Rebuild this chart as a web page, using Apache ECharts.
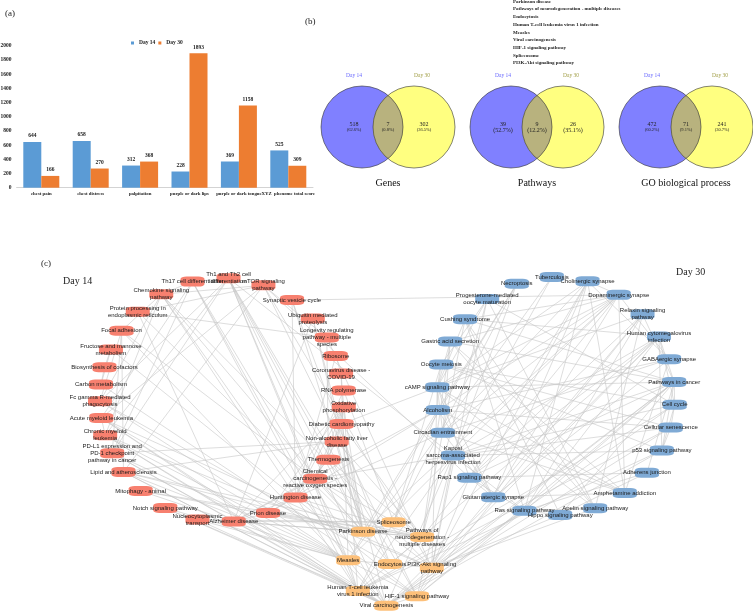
<!DOCTYPE html>
<html><head><meta charset="utf-8">
<script src="https://cdn.jsdelivr.net/npm/echarts/dist/echarts.min.js"></script>
<style>html,body{margin:0;padding:0;background:#fff}#c{width:753px;height:611px}</style>
</head><body><div id="c"></div>
<script>
// ---------- (a) bar chart data ----------
const symptomCategories = ['chest pain','chest distress','palpitation','purple or dark lips','purple or dark tongue','XYZ  phenome total score'];
const day14Scores = [644, 658, 312, 228, 369, 525];
const day30Scores = [166, 270, 368, 1893, 1158, 309];
const seriesNames = ['Day 14', 'Day 30'];

// ---------- (b) Venn data ----------
const vennTitles = ['Genes', 'Pathways', 'GO biological process'];
const vennOnly14 = [518, 39, 472];
const vennShared = [7, 9, 71];
const vennOnly30 = [302, 26, 241];

// ---------- (c) network data ----------
const day14Pathways = [
  'Th17 cell differentiation','Th1 and Th2 cell\ndifferentiation','mTOR signaling\npathway','Synaptic vesicle cycle',
  'Ubiquitin mediated\nproteolysis','Longevity regulating\npathway - multiple\nspecies','Ribosome','Coronavirus disease -\nCOVID-19',
  'RNA polymerase','Oxidative\nphosphorylation','Diabetic cardiomyopathy','Non-alcoholic fatty liver\ndisease','Thermogenesis',
  'Chemical\ncarcinogenesis -\nreactive oxygen species','Huntington disease','Prion disease','Alzheimer disease',
  'Nucleocytoplasmic\ntransport','Notch signaling pathway','Mitophagy - animal','Lipid and atherosclerosis',
  'PD-L1 expression and\nPD-1 checkpoint\npathway in cancer','Chronic myeloid\nleukemia','Acute myeloid leukemia',
  'Fc gamma R-mediated\nphagocytosis','Carbon metabolism','Biosynthesis of cofactors','Fructose and mannose\nmetabolism',
  'Focal adhesion','Protein processing in\nendoplasmic reticulum','Chemokine signaling\npathway'
];
const day30Pathways = [
  'Tuberculosis','Cholinergic synapse','Dopaminergic synapse','Relaxin signaling\npathway','Human cytomegalovirus\ninfection',
  'GABAergic synapse','Pathways in cancer','Cell cycle','Cellular senescence','p53 signaling pathway','Adherens junction',
  'Amphetamine addiction','Apelin signaling pathway','Hippo signaling pathway','Ras signaling pathway','Glutamatergic synapse',
  'Rap1 signaling pathway','Kaposi\nsarcoma-associated\nherpesvirus infection','Circadian entrainment','Alcoholism',
  'cAMP signaling pathway','Oocyte meiosis','Gastric acid secretion','Cushing syndrome','Progesterone-mediated\noocyte maturation','Necroptosis'
];
const sharedPathways = [
  'Parkinson disease','Pathways of\nneurodegeneration -\nmultiple diseases','Endocytosis','Human T-cell leukemia\nvirus 1 infection',
  'Measles','Viral carcinogenesis','HIF-1 signaling pathway','Spliceosome','PI3K-Akt signaling\npathway'
];
const networkEdges = [
  ['Th17','Th1 and'],['Th17','Chemokine'],['Th17','Measles'],['Th17','Human T'],['Th17','Viral'],['Th17','PD-L1'],['Th17','Acute'],
  ['Th1 and','Measles'],['Th1 and','Human T'],['Th1 and','Viral'],['Th1 and','Parkinson'],['Th1 and','Chronic'],['Th1 and','PD-L1'],
  ['Th1 and','Fc'],['Th1 and','HIF'],['Th1 and','Endocytosis'],['Th1 and','Kaposi'],
  ['Chemokine','mTOR'],['Chemokine','Focal'],['Chemokine','Fc'],['Chemokine','Chronic'],['Chemokine','Human T'],['Chemokine','Measles'],
  ['Chemokine','PI3K'],['Chemokine','Endocytosis'],
  ['Protein','mTOR'],['Protein','Longevity'],['Protein','Parkinson'],['Protein','Alzheimer'],
  ['mTOR','Longevity'],['mTOR','Acute'],['mTOR','PI3K'],['mTOR','HIF'],['mTOR','Lipid'],['mTOR','Rap1'],
  ['Synaptic','Parkinson'],['Synaptic','Endocytosis'],['Synaptic','Huntington'],['Synaptic','Dopaminergic'],
  ['Ubiquitin','Parkinson'],['Ubiquitin','Alzheimer'],['Ubiquitin','Viral'],
  ['Longevity','Thermogenesis'],['Longevity','PI3K'],
  ['Ribosome','Coronavirus'],['Ribosome','Huntington'],
  ['Coronavirus','Measles'],['Coronavirus','Human T'],
  ['RNA','Spliceosome'],['RNA','Huntington'],
  ['Oxidative','Thermogenesis'],['Oxidative','Diabetic'],['Oxidative','Non-alcoholic'],['Oxidative','Parkinson'],['Oxidative','Alzheimer'],
  ['Oxidative','Prion'],['Oxidative','Huntington'],['Oxidative','Chemical'],
  ['Diabetic','Parkinson'],['Diabetic','Pathways of'],['Diabetic','Chemical'],['Diabetic','cAMP'],
  ['Non-alcoholic','Parkinson'],['Non-alcoholic','Chemical'],['Non-alcoholic','Pathways of'],
  ['Thermogenesis','Parkinson'],['Thermogenesis','Pathways of'],['Thermogenesis','Huntington'],
  ['Chemical','Parkinson'],['Chemical','Pathways of'],['Chemical','Alzheimer'],['Chemical','Kaposi'],
  ['Huntington','Parkinson'],['Huntington','Pathways of'],['Huntington','Alzheimer'],['Huntington','Prion'],['Huntington','Circadian'],
  ['Prion','Parkinson'],['Prion','Pathways of'],['Prion','Alzheimer'],['Prion','Alcoholism'],
  ['Alzheimer','Parkinson'],['Alzheimer','Pathways of'],['Alzheimer','Spliceosome'],['Alzheimer','Alcoholism'],
  ['Nucleocytoplasmic','Spliceosome'],['Nucleocytoplasmic','Measles'],['Nucleocytoplasmic','Viral'],
  ['Notch','Human T'],['Notch','Viral'],['Notch','Measles'],
  ['Mitophagy','Parkinson'],['Mitophagy','Measles'],['Mitophagy','Pathways of'],
  ['Lipid','Measles'],['Lipid','Human T'],['Lipid','Viral'],['Lipid','Parkinson'],['Lipid','Non-alcoholic'],['Lipid','Pathways of'],
  ['PD-L1','Human T'],['PD-L1','Measles'],['PD-L1','Non-alcoholic'],['PD-L1','Viral'],
  ['Chronic','Human T'],['Chronic','Viral'],['Chronic','Acute'],['Chronic','HIF'],['Chronic','PI3K'],
  ['Acute','Human T'],['Acute','Viral'],['Acute','PI3K'],['Acute','Measles'],
  ['Fc','Measles'],['Fc','Endocytosis'],['Fc','Focal'],
  ['Carbon','HIF'],['Carbon','Biosynthesis'],['Carbon','Fructose'],['Biosynthesis','Fructose'],['Fructose','HIF'],
  ['Focal','Lipid'],['Focal','PD-L1'],['Focal','Viral'],['Focal','PI3K'],
  ['Tuberculosis','Measles'],['Tuberculosis','Kaposi'],
  ['Necroptosis','Measles'],['Necroptosis','Human T'],['Necroptosis','Kaposi'],['Necroptosis','Alcoholism'],
  ['Cholinergic','Dopaminergic'],['Cholinergic','GABA'],['Cholinergic','Glutamatergic'],['Cholinergic','Circadian'],['Cholinergic','Amphetamine'],
  ['Cholinergic','Rap1'],['Cholinergic','Ras'],['Cholinergic','cAMP'],['Cholinergic','PI3K'],
  ['Dopaminergic','Glutamatergic'],['Dopaminergic','Amphetamine'],['Dopaminergic','Alcoholism'],['Dopaminergic','Circadian'],
  ['Dopaminergic','cAMP'],['Dopaminergic','GABA'],['Dopaminergic','Parkinson'],['Dopaminergic','Cushing'],['Dopaminergic','Gastric'],
  ['Dopaminergic','Rap1'],['Dopaminergic','Kaposi'],
  ['Relaxin','Apelin'],['Relaxin','Rap1'],['Relaxin','Ras'],['Relaxin','PI3K'],['Relaxin','cAMP'],['Relaxin','HIF'],['Relaxin','Pathways in'],
  ['Human c','Kaposi'],['Human c','Pathways in'],['Human c','Cell cycle'],['Human c','p53'],['Human c','Viral'],['Human c','PI3K'],
  ['Human c','Rap1'],['Human c','Ras'],['Human c','Human T'],['Human c','Cushing'],
  ['GABA','Glutamatergic'],['GABA','Alcoholism'],['GABA','Amphetamine'],['GABA','Circadian'],
  ['Pathways in','Ras'],['Pathways in','Rap1'],['Pathways in','PI3K'],['Pathways in','Cell cycle'],['Pathways in','p53'],['Pathways in','Kaposi'],
  ['Pathways in','Viral'],['Pathways in','Hippo'],['Pathways in','HIF'],['Pathways in','Adherens'],['Pathways in','Cushing'],
  ['Pathways in','Gastric'],['Pathways in','cAMP'],
  ['Cell cycle','p53'],['Cell cycle','Cellular'],['Cell cycle','Viral'],['Cell cycle','Human T'],['Cell cycle','Oocyte'],['Cell cycle','Kaposi'],
  ['Cellular','p53'],['Cellular','Viral'],['Cellular','Human T'],['Cellular','Kaposi'],['Cellular','Alcoholism'],
  ['p53','Viral'],['p53','Human T'],['p53','Kaposi'],
  ['Adherens','Hippo'],['Adherens','Ras'],['Adherens','Rap1'],
  ['Amphetamine','Alcoholism'],['Amphetamine','Glutamatergic'],['Amphetamine','Circadian'],['Amphetamine','cAMP'],
  ['Apelin','Ras'],['Apelin','cAMP'],['Apelin','PI3K'],['Apelin','Gastric'],
  ['Hippo','PI3K'],['Hippo','Ras'],
  ['Ras','Rap1'],['Ras','PI3K'],['Ras','Kaposi'],['Ras','HIF'],['Ras','Viral'],
  ['Glutamatergic','Circadian'],['Glutamatergic','Alcoholism'],['Glutamatergic','Rap1'],['Glutamatergic','cAMP'],
  ['Rap1','PI3K'],['Rap1','cAMP'],['Rap1','Pathways of'],
  ['Kaposi','Viral'],['Kaposi','Human T'],['Kaposi','PI3K'],['Kaposi','HIF'],['Kaposi','Measles'],
  ['Circadian','cAMP'],['Circadian','Gastric'],
  ['Alcoholism','cAMP'],['Alcoholism','Parkinson'],['Alcoholism','Spliceosome'],
  ['cAMP','Gastric'],['cAMP','Cushing'],['cAMP','PI3K'],['cAMP','Oocyte'],['cAMP','Progesterone'],
  ['Oocyte','Progesterone'],['Oocyte','Spliceosome'],['Oocyte','p53'],['Oocyte','Cellular'],
  ['Gastric','Pathways of'],['Gastric','Amphetamine'],
  ['Cushing','Pathways of'],['Cushing','Hippo'],['Cushing','Apelin'],['Cushing','Ras'],
  ['Progesterone','Pathways of'],['Progesterone','Cell cycle'],['Progesterone','Apelin'],['Progesterone','PI3K'],
  ['Parkinson','Pathways of'],['Parkinson','Spliceosome'],['Measles','Human T'],['Measles','Viral'],['Human T','Viral'],
  ['PI3K','HIF'],['HIF','Viral'],['PI3K','Viral'],['Endocytosis','Measles'],['Endocytosis','PI3K'],['Pathways of','Endocytosis']
];

// ---------- layout / style ----------
const SERIF = 'Liberation Serif';
const SANS = 'Liberation Sans';
const BLUE_BAR = '#5B9BD5', ORANGE_BAR = '#ED7D31';
const NODE_COLORS = {d14: '#F7806F', d30: '#7FAAD5', shared: '#FDC07A'};

// circular layout: nodes placed clockwise in order; where neighbours sit side by side
// (top / bottom of the ring) their wide labels get more room (gap weight 1 + k*sin^2).
function ringPositions(n, cx, cy, r, startDeg, k) {
  const M = 3600, F = [0];
  const w = u => { const t = (startDeg - u) * Math.PI / 180; return 1 + k * Math.sin(t) ** 2; };
  for (let j = 1; j <= M; j++) { const u = (j - 0.5) * 360 / M; F.push(F[j - 1] + (360 / M) / w(u)); }
  const total = F[M], out = [];
  for (let m = 0; m < n; m++) {
    const target = total * m / n;
    let j = 0; while (j < M && F[j + 1] < target) j++;
    const u = (j + (target - F[j]) / (F[j + 1] - F[j])) * 360 / M;
    const a = (startDeg - u) * Math.PI / 180;
    out.push([cx + r * Math.cos(a), cy - r * Math.sin(a)]);
  }
  return out;
}
const pos14 = ringPositions(day14Pathways.length, 222, 400, 122, 104, 1.2);
const pos30 = ringPositions(day30Pathways.length, 556, 396, 119, 92, 0.6);
const sharedRingOrder = [0, 7, 1, 8, 6, 5, 3, 4]; // clockwise order on the small ring
const sharedCenterIdx = 2;
const SHARED_CENTER = [390, 564];
const ringS = ringPositions(sharedRingOrder.length, SHARED_CENTER[0], SHARED_CENTER[1], 42, 130, 0);
const posShared = [];
sharedRingOrder.forEach((idx, k) => { posShared[idx] = ringS[k]; });
posShared[sharedCenterIdx] = SHARED_CENTER;

const nodes = [];
day14Pathways.forEach((n, i) => nodes.push({name: n, value: pos14[i], itemStyle: {color: NODE_COLORS.d14}}));
day30Pathways.forEach((n, i) => nodes.push({name: n, value: pos30[i], itemStyle: {color: NODE_COLORS.d30}}));
sharedPathways.forEach((n, i) => nodes.push({name: n, value: posShared[i], itemStyle: {color: NODE_COLORS.shared}}));
const flat = s => s.replace(/\n/g, ' ');
function findNode(prefix) {
  const i = nodes.findIndex(n => flat(n.name).startsWith(prefix));
  if (i < 0) console.warn('missing', prefix);
  return i;
}
const links = networkEdges.map(([a, b]) => ({source: findNode(a), target: findNode(b)}));

// ---------- Venn renderer ----------
const VENN = {mid0: 388, gap: 149, cy: 127, r: 41, d: 52, pctFont: [4.5, 6, 4.5]};
function renderVenn(params, api) {
  const i = params.dataIndex;
  const a = api.value(0), s = api.value(1), b = api.value(2);
  const tot = a + s + b;
  const pct = v => '(' + (v / tot * 100).toFixed(1) + '%)';
  const mid = VENN.mid0 + i * VENN.gap, cy = VENN.cy, r = VENN.r, h = VENN.d / 2;
  const c1 = mid - h, c2 = mid + h;
  const al = Math.acos(h / r);
  const pts = [];
  const N = 40;
  for (let k = 0; k <= N; k++) { const t = -al + 2 * al * k / N; pts.push([c1 + r * Math.cos(t), cy + r * Math.sin(t)]); }
  for (let k = 0; k <= N; k++) { const t = Math.PI - al + 2 * al * k / N; pts.push([c2 + r * Math.cos(t), cy + r * Math.sin(t)]); }
  const txt = (text, x, y, size, color) => ({
    type: 'text', silent: true,
    style: {text, x, y, fill: color, fontSize: size, fontFamily: SERIF, align: 'center', verticalAlign: 'middle', textAlign: 'center', textVerticalAlign: 'middle'}
  });
  const pf = VENN.pctFont[i];
  return {
    type: 'group',
    children: [
      {type: 'circle', shape: {cx: c1, cy, r}, style: {fill: '#8080FF', stroke: null}},
      {type: 'circle', shape: {cx: c2, cy, r}, style: {fill: '#FFFF80', stroke: null}},
      {type: 'polygon', shape: {points: pts}, style: {fill: '#B8B27E', stroke: null}},
      {type: 'circle', shape: {cx: c1, cy, r}, style: {fill: null, stroke: '#333', lineWidth: 0.6}},
      {type: 'circle', shape: {cx: c2, cy, r}, style: {fill: null, stroke: '#333', lineWidth: 0.6}},
      txt(seriesNames[0], mid - 34, 76, 5.5, '#6a6aff'),
      txt(seriesNames[1], mid + 34, 76, 5.5, '#a3a04a'),
      txt(String(a), mid - 34, 124, 6, '#222'),
      txt(pct(a), mid - 34, 130, pf, '#222'),
      txt(String(s), mid, 124, 6, '#222'),
      txt(pct(s), mid, 130, pf, '#222'),
      txt(String(b), mid + 36, 124, 6, '#222'),
      txt(pct(b), mid + 36, 130, pf, '#222'),
      txt(vennTitles[i], mid, 183, 10, '#111')
    ]
  };
}

// ---------- static texts ----------
const graphics = [
  {type: 'text', left: 5, top: 9, style: {text: '(a)', fontSize: 9, fontFamily: SERIF, fill: '#222'}},
  {type: 'text', left: 305, top: 17, style: {text: '(b)', fontSize: 9, fontFamily: SERIF, fill: '#222'}},
  {type: 'text', left: 41, top: 259, style: {text: '(c)', fontSize: 9, fontFamily: SERIF, fill: '#222'}},
  {type: 'text', left: 63, top: 276, style: {text: 'Day 14', fontSize: 10, fontFamily: SERIF, fill: '#222'}},
  {type: 'text', left: 676, top: 267, style: {text: 'Day 30', fontSize: 10, fontFamily: SERIF, fill: '#222'}}
];
sharedPathways.forEach((n, k) => graphics.push({
  type: 'text', left: 513, top: k * 7.7 - 1, style: {text: flat(n), fontSize: 5, fontWeight: 'bold', fontFamily: SERIF, fill: '#222'}
}));

const chart = echarts.init(document.getElementById('c'), null, {renderer: 'canvas'});
chart.setOption({
  animation: false,
  backgroundColor: '#fff',
  textStyle: {fontFamily: SERIF},
  graphic: graphics,
  legend: {
    data: seriesNames, left: 131, top: 40, icon: 'rect', itemWidth: 3, itemHeight: 3, itemGap: 3, padding: 0,
    textStyle: {fontSize: 5.5, fontWeight: 'bold', fontFamily: SERIF, color: '#222'}
  },
  grid: [
    {left: 16.6, top: 45.7, width: 296.4, height: 142, containLabel: false, outerBoundsMode: 'none'},
    {left: 0, top: 0, width: 753, height: 611, containLabel: false, outerBoundsMode: 'none'}
  ],
  xAxis: [
    {type: 'category', gridIndex: 0, data: symptomCategories,
     axisLine: {lineStyle: {color: '#c8c8c8', width: 0.8}}, axisTick: {show: false},
     axisLabel: {interval: 0, fontSize: 4.8, fontWeight: 'bold', fontFamily: SERIF, color: '#222', margin: 4}},
    {type: 'value', gridIndex: 1, min: 0, max: 753, show: false}
  ],
  yAxis: [
    {type: 'value', gridIndex: 0, min: 0, max: 2000, interval: 200,
     axisLine: {show: false}, axisTick: {show: false}, splitLine: {show: false},
     axisLabel: {fontSize: 5.5, fontWeight: 'bold', fontFamily: SERIF, color: '#222', margin: 5, formatter: v => String(v)}},
    {type: 'value', gridIndex: 1, min: 0, max: 611, inverse: true, show: false}
  ],
  series: [
    {name: seriesNames[0], type: 'bar', xAxisIndex: 0, yAxisIndex: 0, data: day14Scores, barWidth: 18, barGap: '0%',
     itemStyle: {color: BLUE_BAR},
     label: {show: true, position: 'top', distance: 3, fontSize: 5.5, fontWeight: 'bold', fontFamily: SERIF, color: '#222'}},
    {name: seriesNames[1], type: 'bar', xAxisIndex: 0, yAxisIndex: 0, data: day30Scores, barWidth: 18, barGap: '0%',
     itemStyle: {color: ORANGE_BAR},
     label: {show: true, position: 'top', distance: 3, fontSize: 5.5, fontWeight: 'bold', fontFamily: SERIF, color: '#222'}},
    {name: 'venn', type: 'custom', coordinateSystem: 'none', silent: true,
     data: vennTitles.map((t, i) => ({name: t, value: [vennOnly14[i], vennShared[i], vennOnly30[i]]})),
     renderItem: renderVenn},
    {name: 'network', type: 'graph', coordinateSystem: 'cartesian2d', xAxisIndex: 1, yAxisIndex: 1,
     silent: true, roam: false, symbol: 'roundRect', symbolSize: [24, 10],
     data: nodes, links: links, edgeSymbol: ['none', 'none'],
     lineStyle: {color: '#c6c6c6', width: 0.6, opacity: 1, curveness: 0},
     label: {show: true, position: 'inside', fontSize: 6, lineHeight: 7, fontFamily: SANS, color: '#1a1a1a', align: 'center'},
     emphasis: {disabled: true}}
  ]
});
</script></body></html>
